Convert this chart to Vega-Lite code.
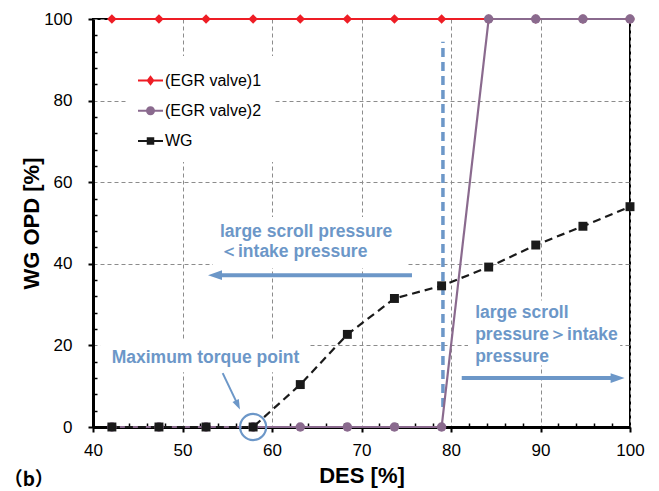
{
  "$schema": "https://vega.github.io/schema/vega-lite/v6.json",
  "width": 537,
  "height": 408,
  "autosize": {"type": "none"},
  "padding": {"left": 93, "top": 19, "right": 29, "bottom": 64},
  "background": "white",
  "title": {"text": "（b）", "orient": "bottom", "anchor": "start", "frame": "bounds", "font": "Noto Sans CJK SC", "fontSize": 19, "fontWeight": "bold", "color": "black", "offset": -15, "dx": -17},
  "datasets": {
    "curves": [
      {"des": 42.11, "opd": 100, "series": "(EGR valve)1"},
      {"des": 47.37, "opd": 100, "series": "(EGR valve)1"},
      {"des": 52.63, "opd": 100, "series": "(EGR valve)1"},
      {"des": 57.89, "opd": 100, "series": "(EGR valve)1"},
      {"des": 63.16, "opd": 100, "series": "(EGR valve)1"},
      {"des": 68.42, "opd": 100, "series": "(EGR valve)1"},
      {"des": 73.68, "opd": 100, "series": "(EGR valve)1"},
      {"des": 78.95, "opd": 100, "series": "(EGR valve)1"},
      {"des": 84.21, "opd": 100, "series": "(EGR valve)1"},
      {"des": 89.47, "opd": 100, "series": "(EGR valve)1"},
      {"des": 94.74, "opd": 100, "series": "(EGR valve)1"},
      {"des": 100, "opd": 100, "series": "(EGR valve)1"},
      {"des": 42.11, "opd": 0, "series": "(EGR valve)2"},
      {"des": 47.37, "opd": 0, "series": "(EGR valve)2"},
      {"des": 52.63, "opd": 0, "series": "(EGR valve)2"},
      {"des": 57.89, "opd": 0, "series": "(EGR valve)2"},
      {"des": 63.16, "opd": 0, "series": "(EGR valve)2"},
      {"des": 68.42, "opd": 0, "series": "(EGR valve)2"},
      {"des": 73.68, "opd": 0, "series": "(EGR valve)2"},
      {"des": 78.95, "opd": 0, "series": "(EGR valve)2"},
      {"des": 84.21, "opd": 100, "series": "(EGR valve)2"},
      {"des": 89.47, "opd": 100, "series": "(EGR valve)2"},
      {"des": 94.74, "opd": 100, "series": "(EGR valve)2"},
      {"des": 100, "opd": 100, "series": "(EGR valve)2"},
      {"des": 42.11, "opd": 0, "series": "WG"},
      {"des": 47.37, "opd": 0, "series": "WG"},
      {"des": 52.63, "opd": 0, "series": "WG"},
      {"des": 57.89, "opd": 0, "series": "WG"},
      {"des": 63.16, "opd": 10.4, "series": "WG"},
      {"des": 68.42, "opd": 22.7, "series": "WG"},
      {"des": 73.68, "opd": 31.5, "series": "WG"},
      {"des": 78.95, "opd": 34.6, "series": "WG"},
      {"des": 84.21, "opd": 39.2, "series": "WG"},
      {"des": 89.47, "opd": 44.6, "series": "WG"},
      {"des": 94.74, "opd": 49.2, "series": "WG"},
      {"des": 100, "opd": 54.0, "series": "WG"}
    ],
    "legendKeys": [],
    "boxes": [
      {"x0": 53.4, "x1": 75.1, "y0": 39.0, "y1": 51.5},
      {"x0": 81.9, "x1": 98.9, "y0": 15.1, "y1": 31.0},
      {"x0": 40.8, "x1": 64.2, "y0": 13.4, "y1": 21.2}
    ],
    "divider": [{"des": 79.1, "opd": 4.9, "opd2": 94.4}],
    "shafts": [
      {"des": 75.64, "des2": 53.75, "opd": 37.2, "opd2": 37.2, "kind": "big"},
      {"des": 81.2, "des2": 98.5, "opd": 12.0, "opd2": 12.0, "kind": "big"},
      {"des": 54.49, "des2": 56.13, "opd": 13.2, "opd2": 5.67, "kind": "small"}
    ],
    "heads": [
      {"des": 52.85, "opd": 37.2, "heading": 180, "kind": "big"},
      {"des": 99.4, "opd": 12.0, "heading": 0, "kind": "big"},
      {"des": 56.42, "opd": 4.3, "heading": 64.5, "kind": "small"}
    ],
    "torque": [{"des": 57.89, "opd": 0}],
    "notes": [
      {"des": 54.19, "opd": 47.7, "text": "large scroll pressure"},
      {"des": 54.19, "opd": 42.8, "text": "＜intake pressure"},
      {"des": 82.7, "opd": 27.9, "text": "large scroll"},
      {"des": 82.7, "opd": 22.5, "text": "pressure＞intake"},
      {"des": 82.7, "opd": 17.2, "text": "pressure"},
      {"des": 42.09, "opd": 16.8, "text": "Maximum torque point"}
    ]
  },
  "layer": [
    {
      "data": {"name": "boxes"},
      "mark": {"type": "rect", "fill": "white"},
      "encoding": {
        "x": {"field": "x0", "type": "quantitative", "scale": {"domain": [40, 100], "nice": false, "zero": false},
          "axis": {"orient": "bottom", "values": [40, 42, 44, 46, 48, 50, 52, 54, 56, 58, 60, 62, 64, 66, 68, 70, 72, 74, 76, 78, 80, 82, 84, 86, 88, 90, 92, 94, 96, 98, 100],
            "tickCount": 200,
            "labelExpr": "datum.value % 10 === 0 ? datum.label : ''", "format": "d", "title": "DES [%]",
            "grid": true, "gridDash": [4, 3], "gridColor": "#8c8c8c", "gridWidth": 1,
            "gridOpacity": {"condition": {"test": "datum.value % 10 === 0", "value": 1}, "value": 0},
            "domainColor": "black", "domainWidth": 3, "tickColor": "black",
            "tickWidth": {"condition": {"test": "datum.value % 10 === 0", "value": 2}, "value": 1.5},
            "tickSize": {"condition": {"test": "datum.value % 10 === 0", "value": 5}, "value": -4},
            "labelFont": "Liberation Sans", "labelFontSize": 17, "labelColor": "black", "labelPadding": 10, "labelFlush": false, "labelOverlap": false,
            "titleFont": "Liberation Sans", "titleFontSize": 22, "titleFontWeight": "bold", "titleColor": "black", "titlePadding": 7}},
        "x2": {"field": "x1"},
        "y": {"field": "y0", "type": "quantitative", "scale": {"domain": [0, 100], "nice": false},
          "axis": {"orient": "left", "values": [0, 4, 8, 12, 16, 20, 24, 28, 32, 36, 40, 44, 48, 52, 56, 60, 64, 68, 72, 76, 80, 84, 88, 92, 96, 100],
            "tickCount": 200,
            "labelExpr": "datum.value % 20 === 0 ? datum.label : ''", "format": "d", "title": "WG OPD [%]",
            "grid": true, "gridDash": [4, 3], "gridColor": "#8c8c8c", "gridWidth": 1,
            "gridOpacity": {"condition": {"test": "datum.value % 20 === 0", "value": 1}, "value": 0},
            "domainColor": "black", "domainWidth": 3, "tickColor": "black",
            "tickWidth": {"condition": {"test": "datum.value % 20 === 0", "value": 2}, "value": 1.5},
            "tickSize": {"condition": {"test": "datum.value % 20 === 0", "value": 5}, "value": -4},
            "labelFont": "Liberation Sans", "labelFontSize": 17, "labelColor": "black", "labelPadding": 16, "labelFlush": false, "labelOverlap": false,
            "titleFont": "Liberation Sans", "titleFontSize": 22, "titleFontWeight": "bold", "titleColor": "black", "titlePadding": 0}},
        "y2": {"field": "y1"}
      }
    },
    {
      "data": {"name": "divider"},
      "mark": {"type": "rule", "color": "#6c97c8", "strokeWidth": 3.5, "strokeDash": [9, 5]},
      "encoding": {
        "x": {"field": "des", "type": "quantitative"},
        "y": {"field": "opd", "type": "quantitative"},
        "y2": {"field": "opd2"}
      }
    },
    {
      "data": {"name": "curves"},
      "mark": {"type": "line", "strokeWidth": 2.2},
      "encoding": {
        "x": {"field": "des", "type": "quantitative"},
        "y": {"field": "opd", "type": "quantitative"},
        "color": {"field": "series", "type": "nominal",
          "scale": {"domain": ["(EGR valve)1", "(EGR valve)2", "WG"], "range": ["#ee1d25", "#8a6a8e", "#1a1a1a"]}},
        "strokeDash": {"field": "series", "type": "nominal", "scale": {"domain": ["(EGR valve)1", "(EGR valve)2", "WG"], "range": [[1, 0], [1, 0], [8, 5]]}, "legend": null}
      }
    },
    {
      "data": {"name": "curves"},
      "transform": [{"filter": "datum.series === '(EGR valve)1'"}],
      "mark": {"type": "point", "filled": true, "size": 90, "opacity": 1, "shape": "diamond"},
      "encoding": {
        "x": {"field": "des", "type": "quantitative"},
        "y": {"field": "opd", "type": "quantitative"},
        "color": {"field": "series", "type": "nominal"}
      }
    },
    {
      "data": {"name": "curves"},
      "transform": [{"filter": "datum.series === '(EGR valve)2'"}],
      "mark": {"type": "point", "filled": true, "size": 90, "opacity": 1, "shape": "circle"},
      "encoding": {
        "x": {"field": "des", "type": "quantitative"},
        "y": {"field": "opd", "type": "quantitative"},
        "color": {"field": "series", "type": "nominal"}
      }
    },
    {
      "data": {"name": "curves"},
      "transform": [{"filter": "datum.series === 'WG'"}],
      "mark": {"type": "point", "filled": true, "size": 80, "opacity": 1, "shape": "square"},
      "encoding": {
        "x": {"field": "des", "type": "quantitative"},
        "y": {"field": "opd", "type": "quantitative"},
        "color": {"field": "series", "type": "nominal"}
      }
    },
    {
      "data": {"name": "legendKeys"},
      "mark": {"type": "point", "filled": true, "opacity": 1},
      "encoding": {
        "x": {"field": "des", "type": "quantitative"},
        "y": {"field": "opd", "type": "quantitative"},
        "color": {"field": "series", "type": "nominal",
          "legend": {"orient": "none", "legendX": 33, "legendY": 37, "title": null, "padding": 12, "fillColor": "white",
            "symbolSize": 625, "rowPadding": 9.3, "labelOffset": 2, "labelFont": "Liberation Sans", "labelFontSize": 16, "labelColor": "black", "symbolStrokeWidth": 0}},
        "shape": {"field": "series", "type": "nominal",
          "scale": {"domain": ["(EGR valve)1", "(EGR valve)2", "WG"],
            "range": ["M-1,-0.08H1V0.08H-1ZM0,-0.42L0.32,0L0,0.42L-0.32,0Z", "M-1,-0.08H1V0.08H-1ZM-0.36,0A0.36,0.36,0,1,1,0.36,0A0.36,0.36,0,1,1,-0.36,0Z", "M-1,-0.08H1V0.08H-1ZM-0.3,-0.3H0.3V0.3H-0.3Z"]},
          "legend": {"orient": "none", "legendX": 33, "legendY": 37, "title": null, "padding": 12, "fillColor": "white",
            "symbolSize": 625, "rowPadding": 9.3, "labelOffset": 2, "labelFont": "Liberation Sans", "labelFontSize": 16, "labelColor": "black", "symbolStrokeWidth": 0}}
      }
    },
    {
      "data": {"name": "shafts"},
      "mark": {"type": "rule", "color": "#6c97c8"},
      "encoding": {
        "x": {"field": "des", "type": "quantitative"},
        "x2": {"field": "des2"},
        "y": {"field": "opd", "type": "quantitative"},
        "y2": {"field": "opd2"},
        "strokeWidth": {"field": "kind", "type": "nominal", "scale": {"domain": ["big", "small"], "range": [4, 2]}, "legend": null}
      }
    },
    {
      "data": {"name": "heads"},
      "mark": {"type": "point", "filled": true, "color": "#6c97c8", "opacity": 1, "shape": "M0,0L-2,-0.7L-2,0.7Z"},
      "encoding": {
        "x": {"field": "des", "type": "quantitative"},
        "y": {"field": "opd", "type": "quantitative"},
        "angle": {"field": "heading", "type": "quantitative", "scale": null},
        "size": {"field": "kind", "type": "nominal", "scale": {"domain": ["big", "small"], "range": [196, 100]}, "legend": null}
      }
    },
    {
      "data": {"name": "torque"},
      "mark": {"type": "point", "filled": false, "size": 680, "stroke": "#6c97c8", "strokeWidth": 2.2, "opacity": 1},
      "encoding": {
        "x": {"field": "des", "type": "quantitative"},
        "y": {"field": "opd", "type": "quantitative"}
      }
    },
    {
      "data": {"name": "notes"},
      "mark": {"type": "text", "align": "left", "baseline": "middle", "font": "Liberation Sans", "fontSize": 17.5, "fontWeight": "bold", "color": "#6c97c8"},
      "encoding": {
        "x": {"field": "des", "type": "quantitative"},
        "y": {"field": "opd", "type": "quantitative"},
        "text": {"field": "text"}
      }
    }
  ],
  "config": {
    "font": "Liberation Sans",
    "view": {"stroke": "black", "strokeWidth": 2}
  }
}
